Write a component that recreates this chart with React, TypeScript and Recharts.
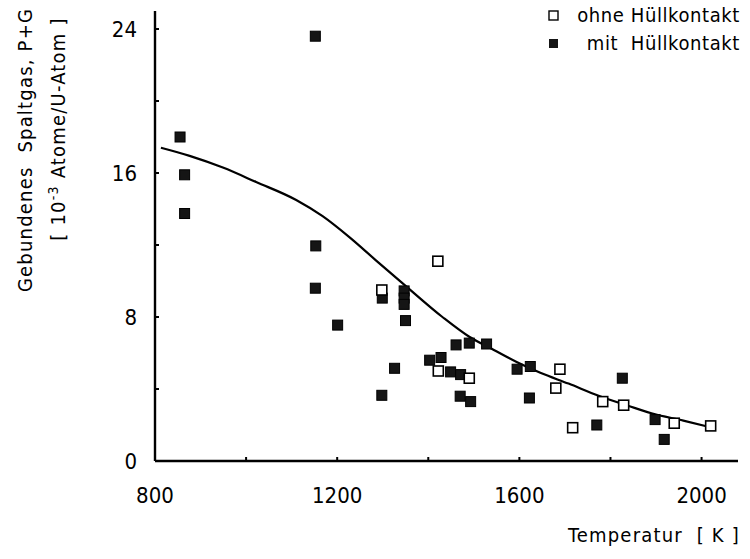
import { ComposedChart, Line, Scatter, XAxis, YAxis } from "recharts";

// Temperatur [K] / gebundenes Spaltgas [1e-3 Atome/U-Atom]
const tempOhne = [1298, 1421, 1422, 1490, 1680, 1689, 1717, 1783, 1829, 1940, 2020];
const gasOhne = [9.5, 11.1, 5.0, 4.6, 4.05, 5.1, 1.85, 3.3, 3.1, 2.1, 1.95];

const tempMit = [
  855, 865, 865, 1152, 1153, 1152, 1201, 1299, 1347, 1347, 1347, 1350, 1326, 1298, 1403,
  1428, 1461, 1490, 1528, 1449, 1471, 1470, 1493, 1595, 1624, 1622, 1826, 1770, 1898, 1918,
];
const gasMit = [
  18.0, 15.9, 13.75, 23.6, 11.95, 9.6, 7.55, 9.05, 9.45, 9.05, 8.7, 7.8, 5.15, 3.65, 5.6,
  5.75, 6.45, 6.55, 6.5, 4.95, 4.8, 3.6, 3.3, 5.1, 5.25, 3.5, 4.6, 2.0, 2.3, 1.2,
];

const tempKurve = [
  813, 876, 949, 1022, 1110, 1168, 1226, 1285, 1347, 1431, 1490, 1544, 1594, 1646,
  1708, 1774, 1840, 1890, 1960, 2015,
];
const gasKurve = [
  17.4, 16.95, 16.3, 15.5, 14.5, 13.6, 12.45, 11.15, 9.8, 8.0, 6.9, 6.17, 5.5, 4.9,
  4.3, 3.63, 3.06, 2.65, 2.24, 1.9,
];

const xTicks = [800, 1000, 1200, 1400, 1600, 1800, 2000];
const xLabels = [800, 1200, 1600, 2000];
const yTicks = [0, 4, 8, 12, 16, 20, 24];
const yLabels = [0, 8, 16, 24];

const ohne = tempOhne.map((x, i) => ({ x, y: gasOhne[i] }));
const mit = tempMit.map((x, i) => ({ x, y: gasMit[i] }));
const kurve = tempKurve.map((x, i) => ({ x, y: gasKurve[i] }));

const FONT = '"Liberation Sans Narrow", "DejaVu Sans Condensed", sans-serif';
const TICK_GAP = 18;

function YTick(props: any) {
  const { x, y, payload } = props;
  const ax = x + TICK_GAP;
  return (
    <g>
      <line x1={ax} x2={ax + 4} y1={y} y2={y} stroke="#000" strokeWidth={2} />
      {yLabels.includes(payload.value) && (
        <text x={x} y={y} dy={8} textAnchor="end" fontFamily={FONT} fontSize={22} fill="#000">
          {payload.value}
        </text>
      )}
    </g>
  );
}

function XTick(props: any) {
  const { x, y, payload } = props;
  const ay = y - TICK_GAP;
  return (
    <g>
      <line x1={x} x2={x} y1={ay} y2={ay - 4} stroke="#000" strokeWidth={2} />
      {xLabels.includes(payload.value) && (
        <text x={x} y={y} dy={24} textAnchor="middle" fontFamily={FONT} fontSize={22} fill="#000">
          {payload.value}
        </text>
      )}
    </g>
  );
}

const OffenesQuadrat = (props: any) => (
  <rect x={props.cx - 5} y={props.cy - 5} width={10} height={10} fill="#fff" stroke="#000" strokeWidth={1.6} />
);
const VollesQuadrat = (props: any) => (
  <rect x={props.cx - 5} y={props.cy - 5} width={10} height={10} fill="#151515" stroke="#000" strokeWidth={1} />
);

export default function App() {
  return (
    <div style={{ position: "absolute", left: 0, top: 0, width: 750, height: 559, background: "#fff" }}>
      <ComposedChart width={750} height={559} margin={{ top: 11, right: 12, bottom: 58, left: 95 }}>
        <XAxis
          dataKey="x"
          type="number"
          domain={[800, 2080]}
          ticks={xTicks}
          tickSize={0}
          tickMargin={TICK_GAP}
          tick={<XTick />}
          height={40}
          axisLine={{ stroke: "#000", strokeWidth: 2.4 }}
          allowDataOverflow
        />
        <YAxis
          dataKey="y"
          type="number"
          domain={[0, 25]}
          ticks={yTicks}
          tickSize={0}
          tickMargin={TICK_GAP}
          tick={<YTick />}
          width={60}
          axisLine={{ stroke: "#000", strokeWidth: 2.4 }}
          allowDataOverflow
        />
        <Line
          data={kurve}
          dataKey="y"
          type="monotone"
          stroke="#000"
          strokeWidth={2.2}
          dot={false}
          activeDot={false}
          isAnimationActive={false}
        />
        <Scatter data={mit} dataKey="y" shape={<VollesQuadrat />} isAnimationActive={false} />
        <Scatter data={ohne} dataKey="y" shape={<OffenesQuadrat />} isAnimationActive={false} />
      </ComposedChart>

      <svg width={750} height={559} style={{ position: "absolute", left: 0, top: 0, pointerEvents: "none" }}>
        <g fontFamily={FONT} fontSize={20} fill="#000" letterSpacing={1.2}>
          <text transform="translate(32,150) rotate(-90)" textAnchor="middle">
            Gebundenes{"\u00a0\u00a0"}Spaltgas,{"\u00a0"}P+G
          </text>
          <text transform="translate(65,129) rotate(-90)" textAnchor="middle">
            [ 10<tspan dy={-7} fontSize={14}>-3</tspan>
            <tspan dy={7}>{"\u00a0"}Atome/U-Atom ]</tspan>
          </text>
          <text x={740} y={542} textAnchor="end">
            Temperatur{"\u00a0\u00a0"}[ K ]
          </text>
          <rect x={549} y={11} width={9} height={9} fill="#fff" stroke="#000" strokeWidth={1.4} />
          <text x={740} y={22} textAnchor="end" letterSpacing={0.6}>ohne Hüllkontakt</text>
          <rect x={549} y={39} width={9} height={9} fill="#151515" />
          <text x={740} y={50} textAnchor="end" letterSpacing={0.6}>mit{"\u00a0\u00a0"}Hüllkontakt</text>
        </g>
      </svg>
    </div>
  );
}
